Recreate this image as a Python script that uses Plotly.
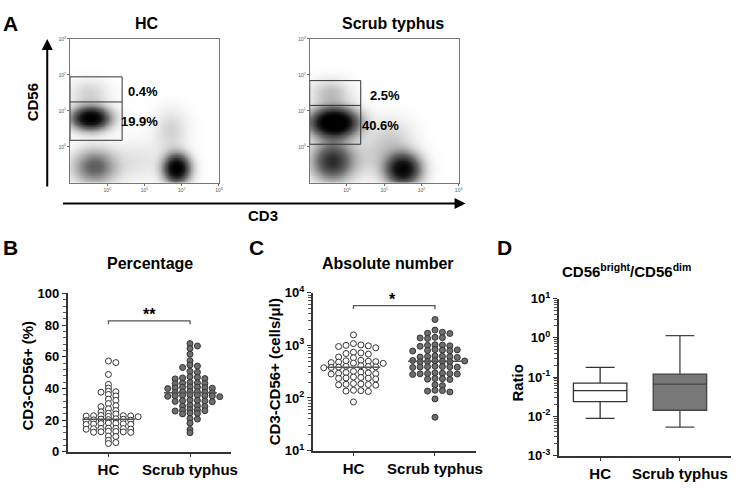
import numpy as np
import plotly.graph_objects as go

W, H = 738, 488
FONT = "Liberation Sans"

# ---------------- data ----------------
groups = ["HC", "Scrub typhus"]
flow_tickvals = [0, 1, 2, 3]
flow_ticktext = ["10<sup>0</sup>", "10<sup>1</sup>", "10<sup>2</sup>", "10<sup>3</sup>"]

# Panel A: cell populations (log10 centre, log10 spread, relative density)
hc_pop_x = [-0.45, -0.35, 1.86, 1.70, -0.50, 0.80]
hc_pop_y = [0.80, -0.55, -0.60, 0.45, 1.50, -0.40]
hc_pop_sx = [0.33, 0.38, 0.23, 0.30, 0.35, 0.50]
hc_pop_sy = [0.21, 0.32, 0.26, 0.40, 0.25, 0.40]
hc_pop_w = [0.95, 0.40, 0.95, 0.10, 0.10, 0.06]

st_pop_x = [-0.35, -0.40, 1.50, 1.20, -0.45, 0.60]
st_pop_y = [0.68, -0.40, -0.62, 0.20, 1.50, -0.30]
st_pop_sx = [0.40, 0.36, 0.31, 0.40, 0.35, 0.50]
st_pop_sy = [0.26, 0.36, 0.29, 0.40, 0.25, 0.40]
st_pop_w = [1.2, 0.6, 0.85, 0.10, 0.15, 0.08]

# gates (log10 units): right edge, bottom, divider, top
hc_gate = [0.40, 0.18, 1.247, 1.945]
st_gate = [0.37, 0.07, 1.15, 1.84]
hc_gate_pct = ["0.4%", "19.9%"]
st_gate_pct = ["2.5%", "40.6%"]

# Panel B: percentage of CD3-CD56+ cells
hc_pct = [57.3, 56.3, 48.8, 42.5, 40.2, 38.2, 37.6, 37.9, 36.2, 35.2, 33.2, 32.4, 30.4, 29.1, 28.5,
          27.1, 26.0, 25.2, 24.3, 23.9,
          22.8, 22.5, 22.6, 22.3, 22.9, 22.1, 22.7,
          20.6, 20.3, 20.8, 19.9, 20.1, 20.5, 19.7,
          17.8, 17.5, 18.1, 17.2, 17.6, 17.9, 17.3,
          14.8, 14.5, 14.2, 14.9, 14.6, 14.3, 14.7,
          12.5, 12.8, 12.2, 12.6, 12.3, 12.9,
          9.6, 9.9, 7.2, 5.2, 5.8]
st_pct = [68.3, 66.8, 65.2, 61.6, 57.5, 54.8, 54.1, 53.2, 50.8, 50.2,
          47.3, 46.2, 46.6, 46.0, 47.0,
          43.5, 43.1, 43.8, 43.3, 42.9,
          41.0, 40.3, 40.7, 40.1, 40.5, 39.9, 40.8,
          38.0, 37.6, 37.2, 37.8, 37.4, 37.9,
          35.6, 35.2, 35.9, 35.4, 35.0, 35.7, 34.8, 35.3,
          32.4, 31.8, 32.1, 32.6, 31.6, 32.2,
          29.0, 28.6, 29.3, 28.8,
          26.4, 25.9, 26.2, 26.6, 25.7,
          23.9, 24.2, 24.5,
          21.0, 20.6, 18.0, 14.0, 12.0]

# Panel C: absolute number (cells/ul)
hc_abs = [1580,
          1080, 1000, 1020, 950, 980, 900,
          720, 700, 680, 740, 600, 580,
          520, 500, 480, 510, 470, 490, 455, 460,
          400, 390, 385, 395, 380, 410, 375,
          310, 300, 295, 305, 290, 320, 285,
          245, 238, 240, 250, 235, 230,
          185, 180, 178, 188, 182, 175,
          138, 135, 133, 140,
          84]
st_abs = [3100, 1950, 1780, 1700, 1680,
          1400, 1350, 1380, 1420,
          1010, 980, 1000, 960, 1030,
          810, 790, 800, 830, 780, 820,
          620, 610, 600, 630, 590, 615,
          505, 495, 510, 500, 490, 515, 485,
          395, 390, 385, 400, 380, 392, 388,
          290, 295, 285, 300, 280, 292, 288,
          232, 228, 225, 235,
          178, 172,
          135, 138, 130, 140,
          96, 43]

# Panel D: CD56bright/CD56dim ratio box summaries (min, q1, median, q3, max)
ratio_min = [0.0089, 0.0053]
ratio_q1 = [0.0238, 0.0143]
ratio_med = [0.0453, 0.0658]
ratio_q3 = [0.0697, 0.119]
ratio_max = [0.176, 1.14]

# ---------------- helpers ----------------
def P(px, py):
    return px / W, 1 - py / H

def density(cx, cy, sx, sy, w, gx, gy):
    X, Y = np.meshgrid(gx, gy)
    z = np.zeros_like(X)
    for a, b, c, d, e in zip(cx, cy, sx, sy, w):
        z += e * np.exp(-0.5 * (((X - a) / c) ** 2 + ((Y - b) / d) ** 2))
    return z

def swarm_offsets(values, px_per_y, px_per_x, spacing=7.4, vthr=3.2, log=False):
    """Row-style scatter dot layout: points closer than vthr px vertically share a row."""
    v = np.log10(values) if log else np.asarray(values, float)
    ypx = v * px_per_y
    order = np.argsort(-ypx)
    pxs, pys = [], []
    out = np.zeros(len(v))
    for i in order:
        y = ypx[i]
        ax_ = np.array(pxs)
        ay_ = np.array(pys)
        best = 0.0
        done = False
        for k in range(0, 400):
            cands = (0.0,) if k == 0 else (k * 0.5, -k * 0.5)
            for s in cands:
                if len(ax_) == 0 or not np.any((np.abs(ax_ - s) < spacing) & (np.abs(ay_ - y) < vthr)):
                    best = s
                    done = True
                    break
            if done:
                break
        pxs.append(best)
        pys.append(y)
        out[i] = best / px_per_x
    return out

fig = go.Figure()

# ---------------- Panel A ----------------
gx = np.linspace(-1, 3, 201)
gy = np.linspace(-1, 3, 201)
cs = [[0, "#ffffff"], [0.03, "#f3f3f3"], [0.15, "#c4c4c4"], [0.4, "#6a6a6a"], [0.75, "#1a1a1a"], [1, "#000000"]]
for (cx, cy, sx, sy, w), xa, ya in [((hc_pop_x, hc_pop_y, hc_pop_sx, hc_pop_sy, hc_pop_w), "x", "y"),
                                    ((st_pop_x, st_pop_y, st_pop_sx, st_pop_sy, st_pop_w), "x2", "y2")]:
    z = density(cx, cy, sx, sy, w, gx, gy)
    fig.add_trace(go.Heatmap(x=gx, y=gy, z=z, colorscale=cs, zmin=0, zmax=0.9, showscale=False,
                             zsmooth="best", xaxis=xa, yaxis=ya, hoverinfo="skip"))

shapes = []
for gate, xa, ya in [(hc_gate, "x", "y"), (st_gate, "x2", "y2")]:
    shapes.append(dict(type="rect", xref=xa, yref=ya, x0=-1, x1=gate[0], y0=gate[1], y1=gate[3],
                       line=dict(color="#333", width=1)))
    shapes.append(dict(type="line", xref=xa, yref=ya, x0=-1, x1=gate[0], y0=gate[2], y1=gate[2],
                       line=dict(color="#333", width=1)))

# ---------------- Panel B ----------------
for i, (vals, fill) in enumerate([(hc_pct, "white"), (st_pct, "#6e6e6e")]):
    off = swarm_offsets(vals, 1.64, 82.35, vthr=3.2)
    fig.add_trace(go.Scatter(x=i + off, y=vals, mode="markers", xaxis="x3", yaxis="y3",
                             marker=dict(size=6, color=fill, line=dict(color="#333", width=1)),
                             hoverinfo="skip"))
    m = float(np.median(vals))
    fig.add_trace(go.Scatter(x=[i - 0.32, i + 0.33], y=[m, m], mode="lines", xaxis="x3", yaxis="y3",
                             line=dict(color="#555", width=1.5), hoverinfo="skip"))
fig.add_trace(go.Scatter(x=[0, 0, 1, 1], y=[80.5, 82.6, 82.6, 80.5], mode="lines", xaxis="x3", yaxis="y3",
                         line=dict(color="#555", width=1.3), hoverinfo="skip"))

# ---------------- Panel C ----------------
for i, (vals, fill) in enumerate([(hc_abs, "white"), (st_abs, "#6e6e6e")]):
    off = swarm_offsets(vals, 54.5, 82.3, vthr=5.0, log=True)
    fig.add_trace(go.Scatter(x=i + off, y=vals, mode="markers", xaxis="x4", yaxis="y4",
                             marker=dict(size=6, color=fill, line=dict(color="#333", width=1)),
                             hoverinfo="skip"))
    m = float(np.median(vals))
    fig.add_trace(go.Scatter(x=[i - 0.33, i + 0.33], y=[m, m], mode="lines", xaxis="x4", yaxis="y4",
                             line=dict(color="#555", width=1.5), hoverinfo="skip"))
fig.add_trace(go.Scatter(x=[0, 0, 1, 1], y=[4900, 5700, 5700, 4900], mode="lines", xaxis="x4", yaxis="y4",
                         line=dict(color="#555", width=1.3), hoverinfo="skip"))

# ---------------- Panel D ----------------
for i, (fill, lc) in enumerate([("white", "#333"), ("#787878", "#444")]):
    fig.add_trace(go.Box(x=[i], q1=[ratio_q1[i]], median=[ratio_med[i]], q3=[ratio_q3[i]],
                         lowerfence=[ratio_min[i]], upperfence=[ratio_max[i]],
                         fillcolor=fill, line=dict(color=lc, width=1.3), width=0.67,
                         whiskerwidth=0.54, xaxis="x5", yaxis="y5", hoverinfo="skip", boxpoints=False))

# ---------------- axes ----------------
flow_ax = dict(range=[-1, 3], tickvals=flow_tickvals, ticktext=flow_ticktext, ticks="outside", ticklen=2,
               tickcolor="#666", tickfont=dict(size=5, color="#555", family=FONT), showline=True,
               linecolor="#777", linewidth=1, mirror=True, showgrid=False, zeroline=False, fixedrange=True)

def num_ax(**kw):
    d = dict(ticks="outside", ticklen=4, tickwidth=1.3, tickcolor="#333", showline=True, linecolor="#333",
             linewidth=1.5, showgrid=False, zeroline=False,
             tickfont=dict(size=13, color="black", family=FONT, weight="bold"))
    d.update(kw)
    return d

cat_font = dict(size=15, color="black", family=FONT, weight="bold")

def log_minor(lo, hi):
    return [m * 10 ** k for k in range(lo, hi) for m in range(2, 10)]

layout = dict(
    width=W, height=H, margin=dict(l=0, r=0, t=0, b=0), autosize=False,
    paper_bgcolor="white", plot_bgcolor="white", showlegend=False,
    xaxis=dict(domain=[70.7 / W, 221 / W], anchor="y", **flow_ax),
    yaxis=dict(domain=[1 - 180 / H, 1 - 31 / H], anchor="x", **flow_ax),
    xaxis2=dict(domain=[312.7 / W, 463 / W], anchor="y2", **flow_ax),
    yaxis2=dict(domain=[1 - 180 / H, 1 - 31 / H], anchor="x2", **flow_ax),
    xaxis3=num_ax(domain=[68.3 / W, 233 / W], anchor="y3", range=[-0.5, 1.5], tickvals=[0, 1],
                  ticktext=groups, tickfont=cat_font),
    yaxis3=num_ax(domain=[1 - 458.7 / H, 1 - 294.7 / H], anchor="x3", range=[0, 100], tickvals=[0, 20, 40, 60, 80, 100],
                  minor=dict(ticks="outside", ticklen=2.5, dtick=4, tickcolor="#555", tickwidth=1)),
    xaxis4=num_ax(domain=[315.7 / W, 480.3 / W], anchor="y4", range=[-0.5, 1.5], tickvals=[0, 1],
                  ticktext=groups, tickfont=cat_font),
    yaxis4=num_ax(domain=[1 - 457.5 / H, 1 - 294 / H], anchor="x4", type="log", range=[1, 4],
                  tickvals=[10, 100, 1000, 10000],
                  ticktext=["10<sup>1</sup>", "10<sup>2</sup>", "10<sup>3</sup>", "10<sup>4</sup>"],
                  minor=dict(ticks="outside", ticklen=2.5, tickvals=log_minor(1, 4), tickcolor="#555", tickwidth=1)),
    xaxis5=num_ax(domain=[564 / W, 1.0], anchor="y5", range=[-0.52, 1.64], tickvals=[0, 1],
                  ticktext=groups, tickfont=cat_font),
    yaxis5=num_ax(domain=[1 - 462.7 / H, 1 - 300 / H], anchor="x5", type="log", range=[-3, 1],
                  tickvals=[0.001, 0.01, 0.1, 1, 10],
                  ticktext=["10<sup>-3</sup>", "10<sup>-2</sup>", "10<sup>-1</sup>", "10<sup>0</sup>", "10<sup>1</sup>"],
                  minor=dict(ticks="outside", ticklen=2.5, tickvals=log_minor(-3, 1), tickcolor="#555", tickwidth=1)),
    shapes=shapes,
)
fig.update_layout(**layout)

# ---------------- text ----------------
def txt(s, px, py, size=15, angle=0, bold=True, **kw):
    x, y = P(px, py)
    fig.add_annotation(text=s, x=x, y=y, xref="paper", yref="paper", showarrow=False, textangle=angle,
                       xanchor="center", yanchor="middle",
                       font=dict(family=FONT, size=size, color="black", weight="bold" if bold else "normal"), **kw)

txt("A", 11, 15, size=21)
txt("B", 11, 247, size=21)
txt("C", 259, 247, size=21)
txt("D", 509, 247, size=21)
txt("HC", 148, 15, size=16)
txt("Scrub typhus", 397, 15, size=16)
txt("CD56", 33, 97, size=15, angle=-90)
txt("CD3", 266, 214, size=15)
txt("Percentage", 151, 264, size=16)
txt("Absolute number", 392, 264, size=16)
txt("CD56<sup>bright</sup>/CD56<sup>dim</sup>", 633, 271, size=15)
txt("CD3-CD56+ (%)", 28, 380, size=15, angle=-90)
txt("CD3-CD56+ (cells/\u03bcl)", 278, 376, size=15, angle=-90)
txt("Ratio", 522, 387, size=15, angle=-90)
txt("**", 151, 317, size=16)
txt("*", 396, 301, size=16)

# gate percentages (data coordinates of the flow axes)
for labels, xa, ya, pos in [(hc_gate_pct, "x", "y", [(0.97, 1.53), (0.87, 0.69)]),
                            (st_gate_pct, "x2", "y2", [(1.02, 1.44), (0.91, 0.59)])]:
    for lab, (x, y) in zip(labels, pos):
        fig.add_annotation(text=lab, x=x, y=y, xref=xa, yref=ya, showarrow=False,
                           font=dict(family=FONT, size=13, color="black", weight="bold"))

# axis arrows of panel A
x, y = P(47.7, 31)
fig.add_annotation(x=x, y=y, xref="paper", yref="paper", text="", showarrow=True, ax=0, ay=149,
                   arrowhead=2, arrowsize=1.1, arrowwidth=2, arrowcolor="black")
x, y = P(470, 201.5)
fig.add_annotation(x=x, y=y, xref="paper", yref="paper", text="", showarrow=True, ax=-404, ay=0,
                   arrowhead=2, arrowsize=1.1, arrowwidth=2, arrowcolor="black")

fig.write_html("out.html", config={"displayModeBar": False},
               post_script="document.body.style.margin='0';document.body.style.overflow='hidden';")
